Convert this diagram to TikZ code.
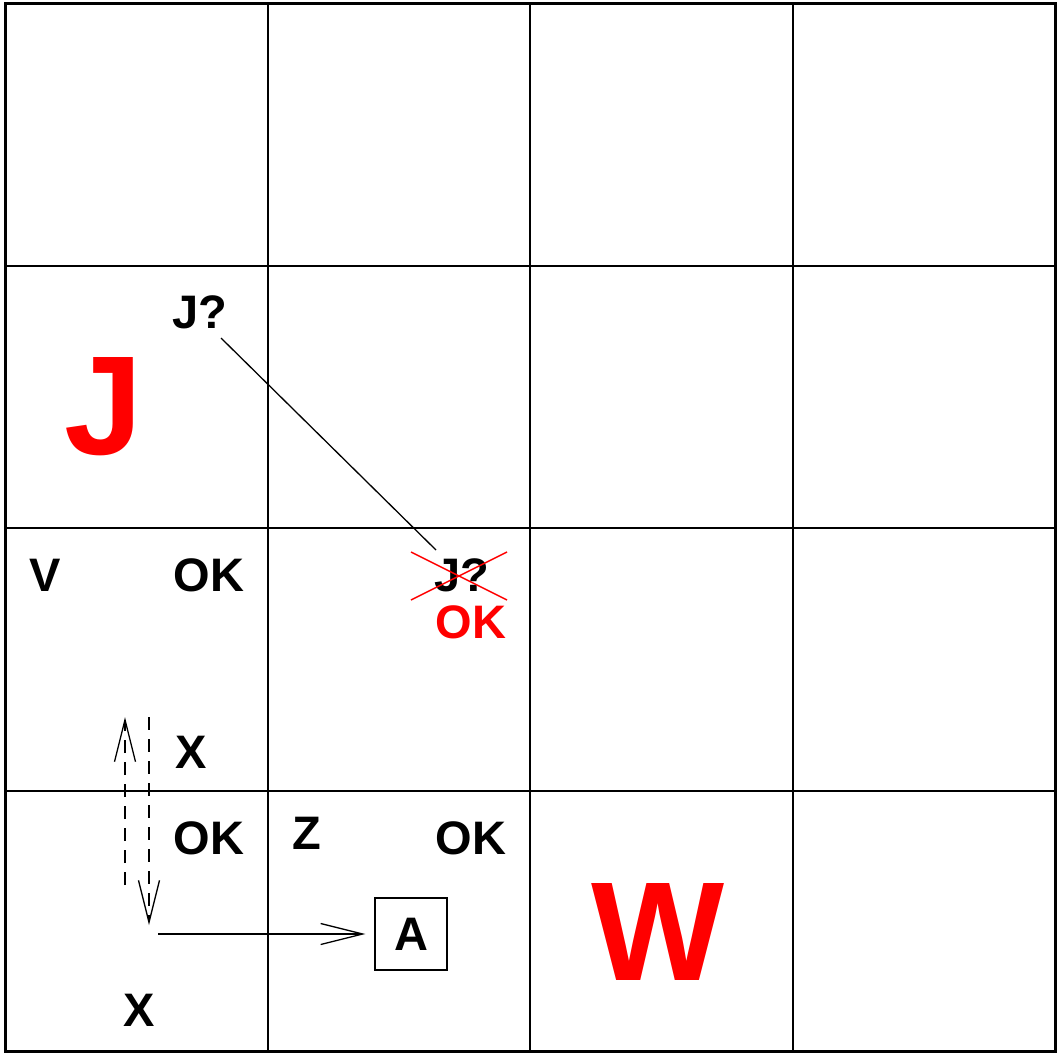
\documentclass[tikz,border=0pt]{standalone}
\usepackage{fontspec}
\setmainfont{Liberation Sans}
\usetikzlibrary{arrows.meta}
\tikzset{
  lbl/.style={font=\fontsize{47}{47}\selectfont\bfseries, inner sep=0pt, anchor=center},
  biglbl/.style={font=\fontsize{141}{141}\selectfont\bfseries, inner sep=0pt, anchor=center, text=red},
  gridline/.style={line width=2pt},
  thin/.style={line width=1.3pt},
  barb/.style={-{Straight Barb[length=42pt,width=21pt,line width=1.3pt]}},
  dashy/.style={dash pattern=on 13pt off 9pt},
  redx/.style={red, line width=1.5pt}
}
\begin{document}
\begin{tikzpicture}[x=1pt,y=-1pt]
\useasboundingbox (0,0) rectangle (1057,1053);
% grid
\foreach \x in {268,530,793} \draw[gridline] (\x,3) -- (\x,1052);
\foreach \y in {266,528,791} \draw[gridline] (5,\y) -- (1055,\y);
\draw[line width=3pt] (5.5,3.5) rectangle (1055.5,1051.5);
% labels
\node[lbl] (jq1) at (200,312) {J?};
\node[biglbl] (bigJ) at (104,407) {J};
\node[lbl] (v) at (45,575) {V};
\node[lbl] (ok1) at (209,575) {OK};
\node[lbl] (jq2) at (462,575) {J?};
\node[lbl, text=red] (ok2) at (471,622) {OK};
\node[lbl] (x1) at (191,752) {X};
\node[lbl] (ok3) at (209,838) {OK};
\node[lbl] (z) at (307,833) {Z};
\node[lbl] (ok4) at (471,838) {OK};
\node[lbl, draw, line width=1.3pt, minimum width=72pt, minimum height=72pt] (a) at (411,934) {A};
\node[lbl] (x2) at (139,1010) {X};
\node[biglbl] (bigW) at (658,932) {W};
% connector between J? labels
\coordinate (l1) at (221,338);
\coordinate (l2) at (436,550);
\draw[thin] (l1) -- (l2);
% red cross
\draw[redx] (411,552) -- (507,600);
\draw[redx] (411,600) -- (507,552);
% dashed arrows
\coordinate (u0) at (125,885);
\coordinate (u1) at (125,717);
\coordinate (d0) at (149,717);
\coordinate (d1) at (149,925);
\draw[thin, dashy, barb] (u0) -- (u1);
\draw[thin, dashy, barb] (d0) -- (d1);
% horizontal arrow to A
\coordinate (h0) at (158,934);
\draw[thin, barb, shorten >=9pt] (h0) -- (a.west);
\end{tikzpicture}
\end{document}
